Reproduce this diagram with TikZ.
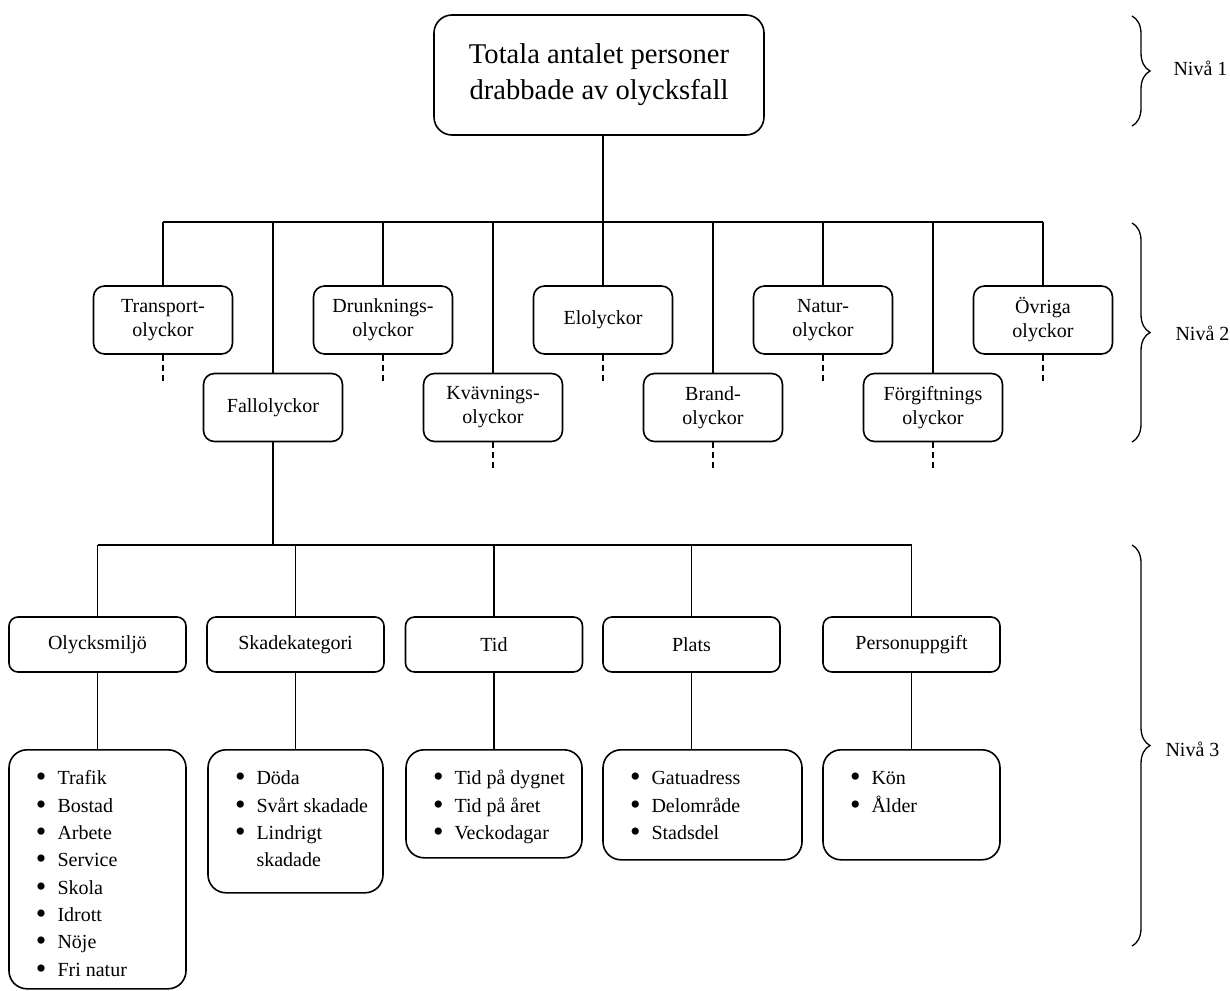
\documentclass[tikz,border=0pt]{standalone}
\usepackage{fontspec}
\setmainfont{Liberation Serif}
\usetikzlibrary{positioning}
\usetikzlibrary{decorations.pathreplacing}
\tikzset{
    boxtop/.style = {rectangle, rounded corners=18pt, line width=1.6pt, draw=black, align=center, minimum width=330pt, minimum height=120pt, font=\fontsize{28.6}{36}\selectfont},
    boxn/.style = {rectangle, rounded corners=11pt, line width=1.6pt, draw=black, align=center, inner sep=0pt, minimum width=139pt, minimum height=68pt, font=\fontsize{20}{24}\selectfont},
    boxk/.style = {rectangle, rounded corners=9pt, line width=1.6pt, draw=black, align=center, inner sep=0pt, minimum width=177pt, minimum height=55pt, font=\fontsize{20}{24}\selectfont},
    boxl/.style = {rectangle, rounded corners=18pt, line width=1.6pt, draw=black, inner sep=0pt, anchor=north, font=\fontsize{20}{27.3}\selectfont},
    edgen/.style = {-, line width=1.3pt, black},
    edged/.style = {-, line width=2.6pt, black, dash pattern=on 6pt off 4pt}, % ...
    nivabrace/.style = {decorate, decoration={brace, amplitude=18pt}, line width=1.3pt},
    niva/.style = {anchor=west, font=\fontsize{20}{24}\selectfont}
}
% bullet list in a box of fixed size: width, height, rows
\newcommand{\punkt}{\raisebox{-0.1em}{\scalebox{1.5}{\textbullet}}}
\newcommand{\punktlista}[3]{\parbox[c][#2][t]{#1}{\vspace*{16pt}\hspace*{27pt}\begin{tabular}[t]{@{}l@{\hspace{11pt}}l@{}}#3\end{tabular}}}

\begin{document}
\begin{tikzpicture}[x=1pt,y=-1pt]
\useasboundingbox (0,0) rectangle (1230,990);
%
\node[boxtop] at (599,75) (top) {Totala antalet personer\\drabbade av olycksfall};
%
\node[boxn] at (163,320) (trans) {Transport-\\olyckor};
\node[boxn] at (273,407.5) (fall) {Fallolyckor};
\node[boxn] at (383,320) (drunk) {Drunknings-\\olyckor};
\node[boxn] at (493,407.5) (kvav) {Kvävnings-\\olyckor};
\node[boxn] at (603,320) (elo) {Elolyckor};
\node[boxn] at (713,407.5) (brand) {Brand-\\olyckor};
\node[boxn] at (823,320) (natur) {Natur-\\olyckor};
\node[boxn] at (933,407.5) (forg) {Förgiftnings\\olyckor};
\node[boxn] at (1043,320) (ovr) {Övriga\\olyckor};
%
\node[boxk] at (97.5,644.5) (miljo) {Olycksmiljö};
\node[boxk] at (295.5,644.5) (skada) {Skadekategori};
\node[boxk] at (494,644.5) (tid) {Tid};
\node[boxk] at (691.5,644.5) (plats) {Plats};
\node[boxk] at (911.5,644.5) (person) {Personuppgift};
%
\node[boxl] at (97.5,749) (miljol) {\punktlista{177pt}{239pt}{\punkt & Trafik\\ \punkt & Bostad\\ \punkt & Arbete\\ \punkt & Service\\ \punkt & Skola\\ \punkt & Idrott\\ \punkt & Nöje\\ \punkt & Fri natur}};
\node[boxl] at (295.5,749) (skadal) {\punktlista{175pt}{143pt}{\punkt & Döda\\ \punkt & Svårt skadade\\ \punkt & Lindrigt\\ & skadade}};
\node[boxl] at (494,749) (tidl) {\punktlista{176pt}{108pt}{\punkt & Tid på dygnet\\ \punkt & Tid på året\\ \punkt & Veckodagar}};
\node[boxl] at (702.5,749) (platsl) {\punktlista{199pt}{110pt}{\punkt & Gatuadress\\ \punkt & Delområde\\ \punkt & Stadsdel}};
\node[boxl] at (911.5,749) (personl) {\punktlista{177pt}{110pt}{\punkt & Kön\\ \punkt & Ålder}};
%
\coordinate (bar2) at (603,222);
\coordinate (bar3) at (273,545);
\draw[edgen] (top.south -| bar2) -- (bar2);
\draw[edgen] (trans.north |- bar2) -- (ovr.north |- bar2);
\foreach \n in {trans,fall,drunk,kvav,elo,brand,natur,forg,ovr}
  \draw[edgen] (\n.north |- bar2) -- (\n.north);
\foreach \n in {trans,drunk,kvav,elo,brand,natur,forg,ovr}{
  \path (\n.south) ++(0,29) coordinate (\n-e);
  \draw[edged] (\n.south) -- (\n-e);
}
%
\draw[edgen] (fall.south) -- (bar3);
\draw[edgen] (miljo.north |- bar3) -- (person.north |- bar3);
\foreach \n in {miljo,skada,tid,plats,person}
  \draw[edgen] (\n.north |- bar3) -- (\n.north);
\foreach \n in {miljo,skada,tid,plats,person}
  \draw[edgen] (\n.south) -- (\n.south |- \n l.north);
%
\draw[nivabrace] (1132,16) -- (1132,126);
\node[niva] at (1170,68) (n1) {Nivå 1};
\draw[nivabrace] (1132,223) -- (1132,442);
\node[niva] at (1172,333) (n2) {Nivå 2};
\draw[nivabrace] (1132,545) -- (1132,946);
\node[niva] at (1162,749) (n3) {Nivå 3};

\end{tikzpicture}
\end{document}
